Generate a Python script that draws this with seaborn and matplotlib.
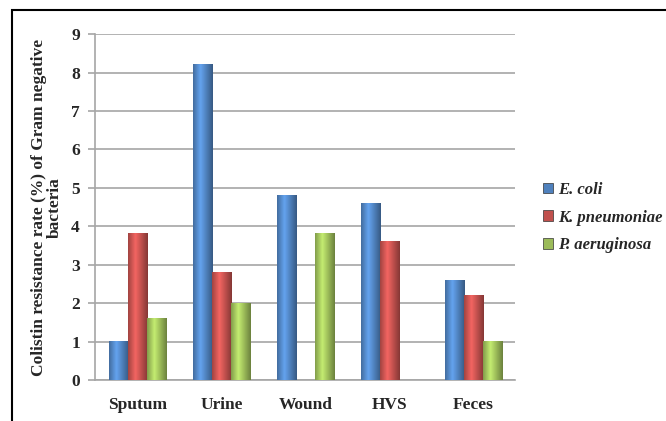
import matplotlib
matplotlib.use("Agg")
import matplotlib.pyplot as plt
import matplotlib.colors as mcolors
import numpy as np
import pandas as pd
import seaborn as sns
from matplotlib.patches import Rectangle

sites = ["Sputum", "Urine", "Wound", "HVS", "Feces"]
species = ["E. coli", "K. pneumoniae", "P. aeruginosa"]
e_coli = [1.0, 8.2, 4.8, 4.6, 2.6]
k_pneumoniae = [3.8, 2.8, 0.0, 3.6, 2.2]
p_aeruginosa = [1.6, 2.0, 3.8, 0.0, 1.0]
colors = ["#4F81BD", "#C0504D", "#9BBB59"]

rows = []
for sp, vals in zip(species, [e_coli, k_pneumoniae, p_aeruginosa]):
    for s, v in zip(sites, vals):
        rows.append({"site": s, "species": sp, "value": v})
df = pd.DataFrame(rows)

sns.set_style("white")
plt.rcParams["font.family"] = ["Liberation Serif", "DejaVu Serif"]

fig = plt.figure(figsize=(6.66, 4.21), dpi=100)
ax = fig.add_axes([0.143, 0.097, 0.631, 0.822])

sns.barplot(data=df, x="site", y="value", hue="species", order=sites,
            hue_order=species, palette=colors, width=0.68, saturation=1,
            edgecolor="#333333", linewidth=0.5, ax=ax, zorder=3)

# cylinder-like shading on each bar
shade = np.concatenate([np.linspace(0.85, 1.25, 12), np.linspace(1.25, 0.7, 20)])
for p in list(ax.patches):
    h = p.get_height()
    if h <= 0:
        continue
    base = np.array(mcolors.to_rgb(p.get_facecolor()))
    grad = np.clip(base[None, :] * shade[:, None], 0, 1)[None, :, :]
    x0, w = p.get_x(), p.get_width()
    ax.imshow(grad, extent=[x0, x0 + w, 0, h], aspect="auto",
              interpolation="bilinear", zorder=3.5)

ax.set_ylim(0, 9)
ax.set_yticks(range(0, 10))
ax.set_xlim(-0.5, 4.5)
ax.yaxis.grid(True, color="#A6A6A6", linewidth=1.2, zorder=0)
ax.set_axisbelow(True)
for side in ["top", "right"]:
    ax.spines[side].set_visible(False)
for side in ["left", "bottom"]:
    ax.spines[side].set_color("#A6A6A6")
    ax.spines[side].set_linewidth(1.2)

ax.set_xticks([i - 0.5 for i in range(6)], minor=True)
ax.tick_params(axis="x", which="major", length=0, pad=12)
ax.tick_params(axis="x", which="minor", length=5, color="#A6A6A6", width=1.2)
ax.tick_params(axis="y", length=5, color="#A6A6A6", width=1.2, left=True, pad=6)

for lab in ax.get_xticklabels() + ax.get_yticklabels():
    lab.set_fontweight("bold")
    lab.set_fontsize(12.5)

ax.set_xlabel("")
ax.set_ylabel("Colistin resistance rate (%) of Gram negative\nbacteria",
              fontsize=12.5, fontweight="bold", labelpad=6, linespacing=1.0)

ax.legend(loc="center left", bbox_to_anchor=(1.05, 0.47), frameon=False,
          prop={"style": "italic", "weight": "bold", "size": 12},
          handlelength=0.6, handleheight=0.6, handletextpad=0.3,
          labelspacing=0.7, borderaxespad=0)

fig.patches.append(Rectangle((12 / 666, -0.01), 0.99, 1 - 10 / 421 + 0.01,
                             transform=fig.transFigure, fill=False,
                             edgecolor="black", linewidth=1.5))

fig.savefig("out.png", dpi=100)
